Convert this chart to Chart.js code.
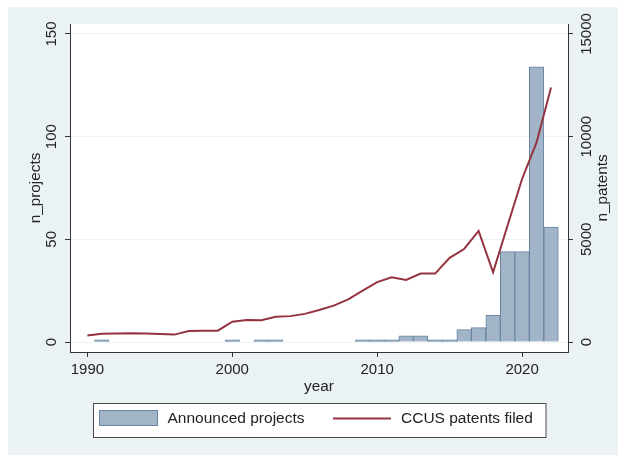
<!DOCTYPE html>
<html>
<head>
<meta charset="utf-8">
<script src="https://cdn.jsdelivr.net/npm/chart.js@4.4.1/dist/chart.umd.min.js"></script>
<style>
  html, body { margin: 0; padding: 0; background: #ffffff; }
  #wrap { width: 618px; height: 455px; }
</style>
</head>
<body>
<div id="wrap"><canvas id="c" width="618" height="455"></canvas></div>
<script>
// ---- data ----
const years = [1990,1991,1992,1993,1994,1995,1996,1997,1998,1999,2000,2001,2002,2003,2004,2005,2006,2007,2008,2009,2010,2011,2012,2013,2014,2015,2016,2017,2018,2019,2020,2021,2022];
const projects = [0,1,0,0,0,0,0,0,0,0,1,0,1,1,0,0,0,0,0,1,1,1,3,3,1,1,6,7,13,44,44,134,56];
const patents = [320,400,410,430,420,390,360,530,550,550,990,1070,1060,1230,1260,1370,1560,1770,2080,2500,2920,3150,3020,3330,3330,4100,4530,5410,3390,5670,7940,9720,12400];
const xTicks = [1990, 2000, 2010, 2020];
const yTicks = [0, 50, 100, 150];
const y2Ticks = [0, 5000, 10000, 15000];
const labels = { x: 'year', y: 'n_projects', y2: 'n_patents', bars: 'Announced projects', line: 'CCUS patents filed' };

const FONT = '"Liberation Sans", Arial, sans-serif';
const TEXT = '#222222';
const BG = '#eaf2f3';
const BAR_FILL = '#a2b4c8';
const BAR_EDGE = '#6a84a1';
const LINE = '#943440';

const barData = [];
years.forEach((yr, i) => { if (projects[i] > 0) barData.push({ x: yr, y: projects[i] }); });
const lineData = years.map((yr, i) => ({ x: yr, y: patents[i] }));

const bgPlugin = {
  id: 'bg',
  beforeDraw(chart) {
    const ctx = chart.ctx, a = chart.chartArea;
    ctx.save();
    ctx.fillStyle = '#ffffff';
    ctx.fillRect(0, 0, chart.width, chart.height);
    ctx.fillStyle = BG;
    ctx.fillRect(8, 7, chart.width - 8, chart.height - 7);
    ctx.fillStyle = '#ffffff';
    ctx.fillRect(a.left, a.top, a.right - a.left, a.bottom - a.top);
    ctx.restore();
  }
};

const textPlugin = {
  id: 'texts',
  afterDraw(chart) {
    const ctx = chart.ctx, a = chart.chartArea;
    const ys = chart.scales.y, y2s = chart.scales.y2;
    ctx.save();
    ctx.fillStyle = TEXT;
    ctx.textAlign = 'center';
    ctx.textBaseline = 'middle';
    ctx.font = '15px ' + FONT;
    const rot = (txt, x, y) => {
      ctx.save(); ctx.translate(x, y); ctx.rotate(-Math.PI / 2); ctx.fillText(txt, 0, 0); ctx.restore();
    };
    yTicks.forEach(v => rot(String(v), 52, ys.getPixelForValue(v)));
    y2Ticks.forEach(v => rot(String(v), 587, y2s.getPixelForValue(v)));
    ctx.font = '15.3px ' + FONT;
    rot(labels.y, 36, (a.top + a.bottom) / 2);
    rot(labels.y2, 603, (a.top + a.bottom) / 2);
    ctx.fillText(labels.x, (a.left + a.right) / 2, 387);

    // legend
    ctx.fillStyle = '#ffffff';
    ctx.fillRect(93.5, 403.5, 452.5, 34);
    ctx.strokeStyle = '#4a4a4a';
    ctx.lineWidth = 1;
    ctx.strokeRect(93.5, 403.5, 452.5, 34);
    ctx.fillStyle = BAR_FILL;
    ctx.fillRect(99.5, 410.5, 58, 15);
    ctx.strokeStyle = BAR_EDGE;
    ctx.strokeRect(99.5, 410.5, 58, 15);
    ctx.strokeStyle = LINE;
    ctx.lineWidth = 2;
    ctx.beginPath(); ctx.moveTo(333, 418.5); ctx.lineTo(391, 418.5); ctx.stroke();
    ctx.fillStyle = TEXT;
    ctx.textAlign = 'left';
    ctx.font = '15.5px ' + FONT;
    ctx.fillText(labels.bars, 167.5, 419);
    ctx.fillText(labels.line, 401, 419);
    ctx.restore();
  }
};

new Chart(document.getElementById('c'), {
  data: {
    datasets: [
      {
        type: 'line', label: labels.line, data: lineData, yAxisID: 'y2', xAxisID: 'x',
        borderColor: LINE, borderWidth: 2, pointRadius: 0, tension: 0, fill: false, order: 0
      },
      {
        type: 'bar', label: labels.bars, data: barData, yAxisID: 'y', xAxisID: 'x',
        backgroundColor: BAR_FILL, borderColor: BAR_EDGE, borderWidth: 1, borderSkipped: 'start',
        barPercentage: 1, categoryPercentage: 1, order: 1
      }
    ]
  },
  options: {
    responsive: false,
    animation: false,
    events: [],
    layout: { padding: { top: 24, left: 0, right: 0, bottom: 0 } },
    plugins: { legend: { display: false }, tooltip: { enabled: false }, title: { display: false } },
    scales: {
      x: {
        type: 'linear', position: 'bottom', min: 1988.8, max: 2023.17, offset: false,
        afterBuildTicks(s) { s.ticks = xTicks.map(v => ({ value: v })); },
        afterFit(s) { s.height = 103; },
        grid: { drawOnChartArea: false, drawTicks: true, tickLength: 5, tickColor: '#333', offset: false },
        border: { display: true, color: '#333', width: 1 },
        ticks: { color: TEXT, font: { family: FONT, size: 15 }, padding: 4, maxRotation: 0,
                 callback: (v) => String(v) }
      },
      y: {
        type: 'linear', position: 'left', min: -4.87, max: 154.87,
        afterBuildTicks(s) { s.ticks = yTicks.map(v => ({ value: v })); },
        afterFit(s) { s.width = 70; },
        grid: { color: BG, lineWidth: 1, drawTicks: true, tickLength: 5, tickColor: '#333' },
        border: { display: true, color: '#333', width: 1 },
        ticks: { display: false }
      },
      y2: {
        type: 'linear', position: 'right', min: -487, max: 15487,
        afterBuildTicks(s) { s.ticks = y2Ticks.map(v => ({ value: v })); },
        afterFit(s) { s.width = 50; },
        grid: { drawOnChartArea: false, drawTicks: true, tickLength: 5, tickColor: '#333' },
        border: { display: true, color: '#333', width: 1 },
        ticks: { display: false }
      }
    }
  },
  plugins: [bgPlugin, textPlugin]
});
</script>
</body>
</html>
